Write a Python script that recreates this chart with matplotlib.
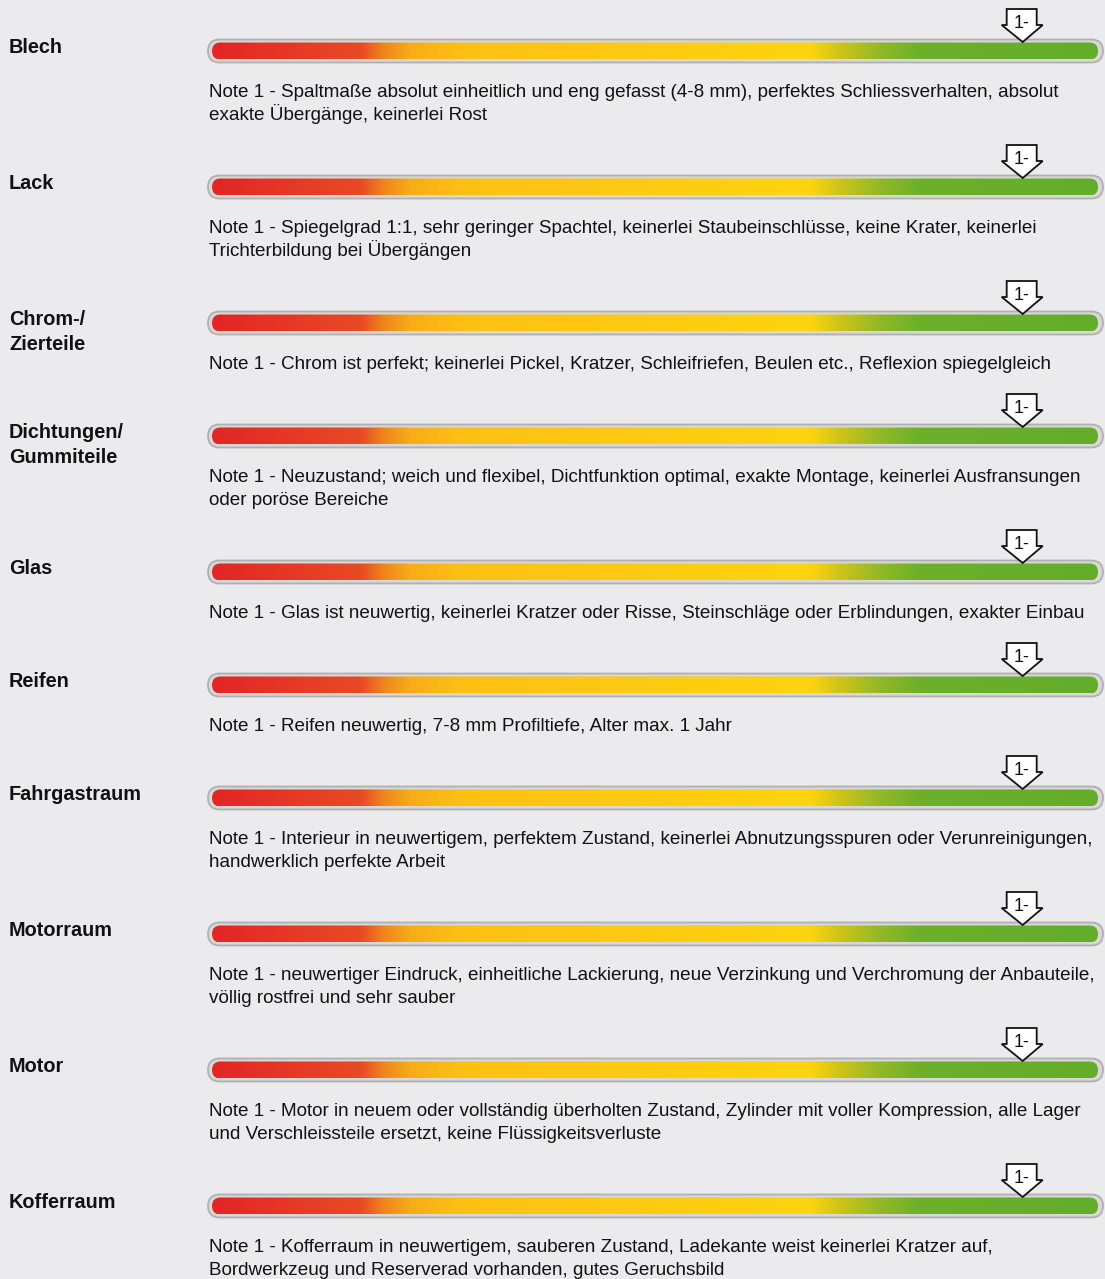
import matplotlib
matplotlib.use("Agg")
import numpy as np
import matplotlib.pyplot as plt
from matplotlib.colors import LinearSegmentedColormap
from matplotlib.patches import FancyBboxPatch, Polygon

plt.rcParams['font.family'] = ['Liberation Sans', 'DejaVu Sans']

# data
categories = ["Blech", "Lack", "Chrom-/\nZierteile", "Dichtungen/\nGummiteile", "Glas",
              "Reifen", "Fahrgastraum", "Motorraum", "Motor", "Kofferraum"]
grades = ["1-"] * 10
# marker position along the scale (0 = left/red end, 1 = right/green end)
scores = [0.915, 0.915, 0.915, 0.915, 0.915, 0.915, 0.915, 0.915, 0.915, 0.915]
notes = [
    "Note 1 - Spaltmaße absolut einheitlich und eng gefasst (4-8 mm), perfektes Schliessverhalten, absolut\nexakte Übergänge, keinerlei Rost",
    "Note 1 - Spiegelgrad 1:1, sehr geringer Spachtel, keinerlei Staubeinschlüsse, keine Krater, keinerlei\nTrichterbildung bei Übergängen",
    "Note 1 - Chrom ist perfekt; keinerlei Pickel, Kratzer, Schleifriefen, Beulen etc., Reflexion spiegelgleich",
    "Note 1 - Neuzustand; weich und flexibel, Dichtfunktion optimal, exakte Montage, keinerlei Ausfransungen\noder poröse Bereiche",
    "Note 1 - Glas ist neuwertig, keinerlei Kratzer oder Risse, Steinschläge oder Erblindungen, exakter Einbau",
    "Note 1 - Reifen neuwertig, 7-8 mm Profiltiefe, Alter max. 1 Jahr",
    "Note 1 - Interieur in neuwertigem, perfektem Zustand, keinerlei Abnutzungsspuren oder Verunreinigungen,\nhandwerklich perfekte Arbeit",
    "Note 1 - neuwertiger Eindruck, einheitliche Lackierung, neue Verzinkung und Verchromung der Anbauteile,\nvöllig rostfrei und sehr sauber",
    "Note 1 - Motor in neuem oder vollständig überholten Zustand, Zylinder mit voller Kompression, alle Lager\nund Verschleissteile ersetzt, keine Flüssigkeitsverluste",
    "Note 1 - Kofferraum in neuwertigem, sauberen Zustand, Ladekante weist keinerlei Kratzer auf,\nBordwerkzeug und Reserverad vorhanden, gutes Geruchsbild",
]

# red -> yellow -> green scale
grad = LinearSegmentedColormap.from_list("scale", [
    (0.0, "#e32526"), (0.167, "#e84a24"), (0.195, "#f0891e"), (0.223, "#f8ac18"),
    (0.28, "#fcc014"), (0.438, "#fdc813"), (0.677, "#fdd40f"), (0.709, "#cfc41a"),
    (0.754, "#92b926"), (0.80, "#6db02a"), (1.0, "#63ad2b")])

bg = "#ebebed"
fig = plt.figure(figsize=(11.05, 12.79), dpi=100, facecolor=bg)
ax = fig.add_axes([0, 0, 1, 1])
ax.set_xlim(0, 1105)
ax.set_ylim(1279, 0)
ax.axis("off")

x0, x1 = 208, 1103          # outer track
ix0, ix1 = 212, 1098        # coloured inner bar
note_gap, label_gap = 23, 25
y = 51
for cat, grade, sc, note in zip(categories, grades, scores, notes):
    # outer track
    outer = FancyBboxPatch((x0, y - 11.5), x1 - x0, 23,
                           boxstyle="round,pad=0,rounding_size=11.5",
                           fc="#d8d8d8", ec="#b0b0b0", lw=1.3, zorder=2)
    ax.add_patch(outer)
    inner = FancyBboxPatch((ix0, y - 8.5), ix1 - ix0, 17,
                           boxstyle="round,pad=0,rounding_size=8.5",
                           fc="none", ec="none", zorder=3)
    ax.add_patch(inner)
    im = ax.imshow(np.linspace(0, 1, 512).reshape(1, -1), cmap=grad, aspect="auto",
                   extent=(ix0, ix1, y + 8.5, y - 8.5), zorder=3, interpolation="bilinear")
    im.set_clip_path(inner)

    # grade marker
    mx = ix0 + sc * (ix1 - ix0)
    arrow = Polygon([(mx - 16, y - 42), (mx + 14, y - 42), (mx + 14, y - 26), (mx + 20, y - 26),
                     (mx, y - 9), (mx - 21, y - 26), (mx - 16, y - 26)],
                    closed=True, fc="white", ec="#111111", lw=1.3, zorder=5, joinstyle="miter")
    ax.add_patch(arrow)
    ax.text(mx - 1, y - 23, grade, ha="center", va="baseline", fontsize=13, zorder=6,
            color="#111111")

    # labels and notes, one text per line for even spacing
    for i, line in enumerate(cat.split("\n")):
        ax.text(9, y + 2 + label_gap * i, line, ha="left", va="baseline", fontsize=14.3,
                fontweight="bold", color="#111111")
    note_lines = note.split("\n")
    for i, line in enumerate(note_lines):
        ax.text(209, y + 46 + note_gap * i, line, ha="left", va="baseline", fontsize=13.6,
                color="#111111")

    y += 113 + note_gap * (len(note_lines) - 1)

fig.savefig("out.png", dpi=100, facecolor=bg)
